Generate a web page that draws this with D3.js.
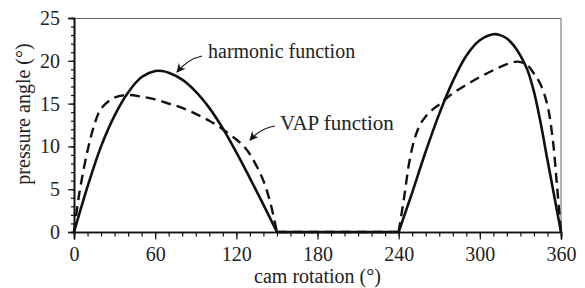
<!DOCTYPE html>
<html>
<head>
<meta charset="utf-8">
<script src="https://cdn.jsdelivr.net/npm/d3@7"></script>
<style>
  body { margin: 0; background: #fff; }
  svg text { font-family: 'Liberation Serif', 'Times New Roman', serif; fill: #222; }
</style>
</head>
<body>
<svg id="chart" width="585" height="288"></svg>
<script>
// cam rotation (deg) and pressure angle (deg)
const harmonicX = [0, 5, 10, 20, 30, 40, 50, 60, 65, 70, 80, 90, 100, 110, 120, 130, 140, 150,
  240, 245, 250, 260, 270, 280, 290, 300, 310, 315, 320, 325, 330, 335, 340, 345, 350, 355, 360];
const harmonicY = [0, 2.7, 5.3, 10, 13.6, 16.3, 18.1, 18.8, 18.8, 18.6, 17.8, 16.4, 14.5, 12.1, 9.3, 6.3, 3.2, 0,
  0, 2.3, 4.6, 9.4, 13.8, 17.6, 20.6, 22.4, 23.1, 23, 22.6, 21.8, 20.6, 19, 16.4, 12.7, 8.4, 4.2, 0];

const vapX = [0, 2.5, 5, 10, 15, 20, 30, 40, 50, 60, 70, 80, 90, 100, 110, 120, 125, 130, 135, 140, 145, 150,
  240, 244, 248, 252, 256, 260, 265, 270, 280, 290, 300, 310, 320, 328, 335, 340, 345, 350, 354, 357, 360];
const vapY = [0, 3, 5.5, 9.5, 12.5, 14.4, 15.7, 16, 15.8, 15.5, 15, 14.5, 13.8, 13, 12, 10.8, 10.1, 9.1, 7.7, 6, 3.5, 0,
  0, 4, 8.3, 11, 12.6, 13.5, 14.3, 14.9, 16.2, 17.2, 18.1, 18.9, 19.6, 19.9, 19.5, 18.5, 17.2, 14.8, 10.7, 5.5, 0];

const xTicks = [0, 60, 120, 180, 240, 300, 360];
const yTicks = [0, 5, 10, 15, 20, 25];

const margin = { top: 18, right: 24, bottom: 56, left: 74 };
const W = 585, H = 288;
const w = W - margin.left - margin.right;
const h = H - margin.top - margin.bottom;

const svg = d3.select('#chart');
const g = svg.append('g').attr('transform', `translate(${margin.left},${margin.top})`);

const x = d3.scaleLinear().domain([0, 360]).range([0, w]);
const y = d3.scaleLinear().domain([0, 25]).range([h, 0]);

// frame (top and right)
g.append('path')
  .attr('d', `M0,0.5H${w}V${h}`)
  .attr('fill', 'none')
  .attr('stroke', '#666')
  .attr('stroke-width', 1);

// minor ticks
const xAxisMinor = d3.axisBottom(x).tickValues(d3.range(0, 361, 10)).tickSize(4.5).tickFormat('');
const yAxisMinor = d3.axisLeft(y).tickValues(d3.range(0, 26, 1)).tickSize(3).tickFormat('');
g.append('g').attr('transform', `translate(0,${h})`).call(xAxisMinor);
g.append('g').call(yAxisMinor);

// major ticks with labels
const xAxis = d3.axisBottom(x).tickValues(xTicks).tickSize(7.5).tickPadding(7);
const yAxis = d3.axisLeft(y).tickValues(yTicks).tickSize(6).tickPadding(8);
g.append('g').attr('transform', `translate(0,${h})`).call(xAxis);
g.append('g').call(yAxis);

g.selectAll('g').attr('font-family', null);
g.selectAll('.domain').attr('stroke', '#111').attr('stroke-width', 1.6);
g.selectAll('.tick line').attr('stroke', '#111').attr('stroke-width', 1.2);
g.selectAll('.tick text')
  .style('font-size', '20px')
  .attr('fill', '#222');

// curves, one piece per segment so the joins stay sharp
const toPts = (xs, ys) => xs.map((d, i) => [d, ys[i]]);
const pieces = pts => [
  pts.filter(d => d[0] <= 150),
  pts.filter(d => d[0] >= 150 && d[0] <= 240),
  pts.filter(d => d[0] >= 240)
];
const line = d3.line()
  .x(d => x(d[0]))
  .y(d => y(d[1]))
  .curve(d3.curveCatmullRom.alpha(0.5));
const joined = pts => pieces(pts).map(p => line(p)).join('');

g.append('path')
  .attr('d', joined(toPts(vapX, vapY)))
  .attr('fill', 'none')
  .attr('stroke', '#111')
  .attr('stroke-width', 2.4)
  .attr('stroke-dasharray', '10,6');

g.append('path')
  .attr('d', joined(toPts(harmonicX, harmonicY)))
  .attr('fill', 'none')
  .attr('stroke', '#111')
  .attr('stroke-width', 2.6)
  .attr('stroke-linejoin', 'round');

// annotations
const defs = svg.append('defs');
defs.append('marker')
  .attr('id', 'head')
  .attr('viewBox', '0 0 10 10')
  .attr('refX', 9).attr('refY', 5)
  .attr('markerWidth', 9).attr('markerHeight', 9)
  .attr('markerUnits', 'userSpaceOnUse')
  .attr('orient', 'auto')
  .append('path')
  .attr('d', 'M0,0L10,5L0,10L3,5Z')
  .attr('fill', '#111');

svg.append('path')
  .attr('d', 'M202,56 Q188,59 177,72')
  .attr('fill', 'none').attr('stroke', '#111').attr('stroke-width', 1.2)
  .attr('marker-end', 'url(#head)');
svg.append('path')
  .attr('d', 'M275,126 Q261,128 250,140')
  .attr('fill', 'none').attr('stroke', '#111').attr('stroke-width', 1.2)
  .attr('marker-end', 'url(#head)');

svg.append('text').attr('x', 208).attr('y', 58)
  .style('font-size', '20px').text('harmonic function');
svg.append('text').attr('x', 280).attr('y', 130)
  .style('font-size', '21px').text('VAP function');

// axis titles
svg.append('text')
  .attr('x', margin.left + w / 2).attr('y', 283)
  .attr('text-anchor', 'middle')
  .style('font-size', '20px')
  .text('cam rotation (°)');
svg.append('text')
  .attr('transform', 'translate(30,114) rotate(-90)')
  .attr('text-anchor', 'middle')
  .style('font-size', '20px')
  .text('pressure angle (°)');
</script>
</body>
</html>
